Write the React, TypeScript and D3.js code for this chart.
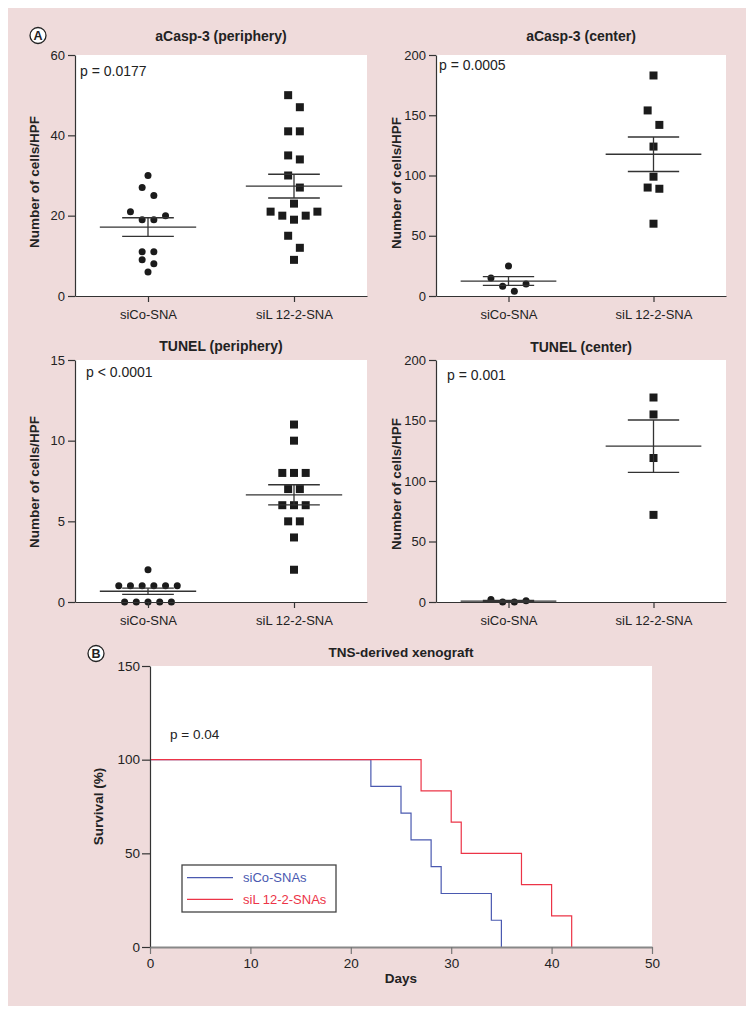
import React, { useEffect, useRef } from "react";
import * as d3 from "d3";

// ---------- data ----------
const groups = ["siCo-SNA", "siL 12-2-SNA"];

const casp3PeriphCo = [30, 27, 25, 21, 20, 19, 19, 11, 11, 9, 8, 6];
const casp3PeriphSiL = [50, 47, 41, 41, 35, 34, 30, 27, 23, 21, 21, 20, 20, 19, 15, 12, 9];
const casp3CenterCo = [25, 15, 10, 8, 4];
const casp3CenterSiL = [183, 154, 142, 124, 99, 90, 89, 60];
const tunelPeriphCo = [2, 1, 1, 1, 1, 1, 1, 0, 0, 0, 0, 0];
const tunelPeriphSiL = [11, 10, 8, 8, 8, 7, 7, 6, 6, 6, 5, 5, 4, 2];
const tunelCenterCo = [2, 0, 0, 1];
const tunelCenterSiL = [169, 155, 119, 72];

const panelTitles = ["aCasp-3 (periphery)", "aCasp-3 (center)", "TUNEL (periphery)", "TUNEL (center)"];
const pValues = ["p = 0.0177", "p = 0.0005", "p < 0.0001", "p = 0.001"];
const yMaxes = [60, 200, 15, 200];
const yTickSteps = [20, 50, 5, 50];
const yAxisTitle = "Number of cells/HPF";

const survivalTitle = "TNS-derived xenograft";
const survivalP = "p = 0.04";
const survivalGroups = ["siCo-SNAs", "siL 12-2-SNAs"];
const deathDaysCo = [22, 25, 26, 28, 29, 34, 35];
const deathDaysSiL = [27, 30, 31, 37, 40, 42];
const dayTicks = [0, 10, 20, 30, 40, 50];
const survivalTicks = [0, 50, 100, 150];

// ---------- style ----------
const FONT = "'Liberation Sans', Arial, Helvetica, sans-serif";
const PINK = "#efdbdb";
const INK = "#1b1b1b";
const AXIS = "#333";
const BLUE = "#4a59b0";
const RED = "#ec3447";

// ---------- helpers ----------
function swarmOffsets(values: number[], y: (v: number) => number, unit: number, rowGap = 7.5, pairGap = 15) {
  const idx = values.map((_, i) => i).sort((a, b) => values[b] - values[a]);
  const rows: number[][] = [];
  let prev = -Infinity;
  for (const i of idx) {
    const py = y(values[i]);
    if (rows.length && py - prev < rowGap) rows[rows.length - 1].push(i);
    else rows.push([i]);
    prev = py;
  }
  const off = new Array(values.length).fill(0);
  rows.forEach((r) => {
    const n = r.length;
    const slots = d3.range(n).map((k) => k - (n - 1) / 2);
    const order = slots.slice().sort((a, b) => Math.abs(b) - Math.abs(a) || a - b);
    r.forEach((pi, k) => (off[pi] = order[k] * unit));
  });
  const cand: { k: number; g: number }[] = [];
  for (let k = 0; k < rows.length - 1; k++) {
    if (rows[k].length === 1 && rows[k + 1].length === 1) {
      const g = y(values[rows[k + 1][0]]) - y(values[rows[k][0]]);
      if (g < pairGap) cand.push({ k, g });
    }
  }
  cand.sort((a, b) => a.g - b.g);
  const used = new Set<number>();
  for (const c of cand) {
    if (!used.has(c.k) && !used.has(c.k + 1)) {
      used.add(c.k);
      used.add(c.k + 1);
      off[rows[c.k][0]] = -unit / 2;
      off[rows[c.k + 1][0]] = unit / 2;
    }
  }
  return off;
}

function kaplanMeier(days: number[]) {
  const sorted = [...days].sort((a, b) => a - b);
  const pts: [number, number][] = [[0, 100]];
  let s = 100;
  let atRisk = sorted.length;
  for (const d of sorted) {
    s = s * (1 - 1 / atRisk);
    atRisk -= 1;
    pts.push([d, Math.abs(s) < 1e-9 ? 0 : s]);
  }
  return pts;
}

type AxisProps = {
  scale: any;
  orient: "left" | "bottom";
  transform: string;
  tickValues?: any[];
  tickSize: number;
  tickPadding: number;
  fontSize: number;
  domainStroke?: string;
  domainWidth?: number;
  tickStroke?: string;
  tickWidth?: number;
};

function Axis(p: AxisProps) {
  const ref = useRef<SVGGElement>(null);
  useEffect(() => {
    if (!ref.current) return;
    const axis = p.orient === "left" ? d3.axisLeft(p.scale) : d3.axisBottom(p.scale);
    axis.tickSizeOuter(0).tickSizeInner(p.tickSize).tickPadding(p.tickPadding);
    if (p.tickValues) axis.tickValues(p.tickValues);
    const g = d3.select(ref.current);
    g.call(axis as any);
    g.attr("font-family", FONT).attr("font-size", p.fontSize);
    g.selectAll("path.domain")
      .attr("stroke", p.domainStroke || AXIS)
      .attr("stroke-width", p.domainWidth || 1.2);
    g.selectAll(".tick line")
      .attr("stroke", p.tickStroke || AXIS)
      .attr("stroke-width", p.tickWidth || 1.2);
    g.selectAll(".tick text").attr("fill", "#222");
  });
  return <g ref={ref} transform={p.transform} />;
}

type PanelCfg = {
  left: number;
  right: number;
  top: number;
  bottom: number;
  idx: number;
  co: number[];
  sil: number[];
  titleY: number;
  labelX: number;
  labelY: number;
  pX: number;
  pY: number;
};

function DotPanel({ cfg }: { cfg: PanelCfg }) {
  const { left, right, top, bottom, idx, co, sil } = cfg;
  const w = right - left;
  const y = d3.scaleLinear().domain([0, yMaxes[idx]]).range([bottom, top]);
  const x = d3.scalePoint<string>().domain(groups).range([left, right]).padding(0.5);
  const step = x.step();
  const ticks = d3.range(0, yMaxes[idx] + 1e-9, yTickSteps[idx]);
  const unit = 11.7;
  const sets = [co, sil];
  return (
    <g>
      <rect x={left} y={top} width={w} height={bottom - top} fill="#fff" />
      <text x={(left + right) / 2} y={cfg.titleY} textAnchor="middle" fontFamily={FONT} fontWeight="bold" fontSize={14} fill="#222">
        {panelTitles[idx]}
      </text>
      <text x={cfg.pX} y={cfg.pY} fontFamily={FONT} fontSize={14} fill="#222">
        {pValues[idx]}
      </text>
      <text
        transform={`translate(${cfg.labelX},${cfg.labelY}) rotate(-90)`}
        textAnchor="middle"
        fontFamily={FONT}
        fontWeight="bold"
        fontSize={13.5}
        fill="#222"
      >
        {yAxisTitle}
      </text>
      {sets.map((vals, gi) => {
        const cx = x(groups[gi]) as number;
        const offs = swarmOffsets(vals, y, unit);
        return (
          <g key={gi}>
            {vals.map((v, i) =>
              gi === 0 ? (
                <circle key={i} cx={cx + offs[i]} cy={y(v)} r={3.5} fill={INK} />
              ) : (
                <rect key={i} x={cx + offs[i] - 4} y={y(v) - 4} width={8} height={8} fill={INK} />
              )
            )}
          </g>
        );
      })}
      {sets.map((vals, gi) => {
        const cx = x(groups[gi]) as number;
        const m = d3.mean(vals) as number;
        const sem = (d3.deviation(vals) as number) / Math.sqrt(vals.length);
        const hm = step * 0.33;
        const hs = step * 0.177;
        return (
          <g key={"s" + gi} stroke="#333" strokeWidth={1.3}>
            <line x1={cx - hm} x2={cx + hm} y1={y(m)} y2={y(m)} />
            <line x1={cx - hs} x2={cx + hs} y1={y(m + sem)} y2={y(m + sem)} />
            <line x1={cx - hs} x2={cx + hs} y1={y(m - sem)} y2={y(m - sem)} />
            <line x1={cx} x2={cx} y1={y(m + sem)} y2={y(m - sem)} />
          </g>
        );
      })}
      <Axis scale={y} orient="left" transform={`translate(${left},0)`} tickValues={ticks} tickSize={7} tickPadding={3} fontSize={13} />
      <Axis scale={x} orient="bottom" transform={`translate(0,${bottom})`} tickSize={6} tickPadding={8} fontSize={13} />
    </g>
  );
}

function CircleLabel({ cx, cy, label }: { cx: number; cy: number; label: string }) {
  return (
    <g>
      <circle cx={cx} cy={cy} r={8} fill="#fff" stroke="#222" strokeWidth={1.3} />
      <text x={cx} y={cy + 4.4} textAnchor="middle" fontFamily={FONT} fontWeight="bold" fontSize={12.5} fill="#222">
        {label}
      </text>
    </g>
  );
}

function SurvivalPanel() {
  const left = 150,
    right = 652,
    top = 666,
    bottom = 947;
  const x = d3.scaleLinear().domain([0, 50]).range([left, right]);
  const y = d3.scaleLinear().domain([0, 150]).range([bottom, top]);
  const line = d3
    .line<[number, number]>()
    .x((d) => x(d[0]))
    .y((d) => y(d[1]))
    .curve(d3.curveStepAfter);
  const co = kaplanMeier(deathDaysCo);
  const sil = kaplanMeier(deathDaysSiL);
  return (
    <g>
      <rect x={left} y={top} width={right - left} height={bottom - top} fill="#fff" />
      <text x={(left + right) / 2} y={657} textAnchor="middle" fontFamily={FONT} fontWeight="bold" fontSize={13.5} fill="#222">
        {survivalTitle}
      </text>
      <text x={170} y={739} fontFamily={FONT} fontSize={13.5} fill="#222">
        {survivalP}
      </text>
      <text transform={`translate(103,${(top + bottom) / 2}) rotate(-90)`} textAnchor="middle" fontFamily={FONT} fontWeight="bold" fontSize={13.5} fill="#222">
        Survival (%)
      </text>
      <text x={(left + right) / 2} y={983} textAnchor="middle" fontFamily={FONT} fontWeight="bold" fontSize={13.5} fill="#222">
        Days
      </text>
      <path d={line(co) || ""} fill="none" stroke={BLUE} strokeWidth={1.2} />
      <path d={line(sil) || ""} fill="none" stroke={RED} strokeWidth={1.2} />
      <Axis scale={y} orient="left" transform={`translate(${left},0)`} tickValues={survivalTicks} tickSize={8} tickPadding={2} fontSize={13.5} />
      <Axis
        scale={x}
        orient="bottom"
        transform={`translate(0,${bottom})`}
        tickValues={dayTicks}
        tickSize={7}
        tickPadding={4}
        fontSize={13.5}
        domainStroke="#888"
        domainWidth={2}
        tickStroke="#777"
      />
      <g>
        <rect x={182} y={865} width={154} height={47} fill="#fff" stroke="#444" strokeWidth={1.3} />
        {survivalGroups.map((g, i) => (
          <g key={g}>
            <line x1={187} x2={233} y1={877.7 + i * 21.6} y2={877.7 + i * 21.6} stroke={i === 0 ? BLUE : RED} strokeWidth={1.2} />
            <text x={243} y={882.3 + i * 21.6} fontFamily={FONT} fontSize={13} fill={i === 0 ? BLUE : RED}>
              {g}
            </text>
          </g>
        ))}
      </g>
    </g>
  );
}

export default function App() {
  const panels: PanelCfg[] = [
    { left: 75, right: 367, top: 55, bottom: 296, idx: 0, co: casp3PeriphCo, sil: casp3PeriphSiL, titleY: 41, labelX: 39, labelY: 182, pX: 80, pY: 76 },
    { left: 436, right: 726, top: 55, bottom: 296, idx: 1, co: casp3CenterCo, sil: casp3CenterSiL, titleY: 41, labelX: 401, labelY: 183, pX: 439, pY: 70 },
    { left: 75, right: 367, top: 360, bottom: 602, idx: 2, co: tunelPeriphCo, sil: tunelPeriphSiL, titleY: 351, labelX: 39, labelY: 482, pX: 86, pY: 377 },
    { left: 436, right: 726, top: 360, bottom: 602, idx: 3, co: tunelCenterCo, sil: tunelCenterSiL, titleY: 352, labelX: 401, labelY: 484, pX: 447, pY: 380 },
  ];
  return (
    <svg width={753} height={1016} style={{ position: "absolute", left: 0, top: 0, display: "block" }} xmlns="http://www.w3.org/2000/svg">
      <rect x={0} y={0} width={753} height={1016} fill="#fff" />
      <rect x={8} y={8} width={738} height={998} fill={PINK} />
      <CircleLabel cx={38} cy={35.5} label="A" />
      <CircleLabel cx={96} cy={653.5} label="B" />
      {panels.map((c) => (
        <DotPanel key={c.idx} cfg={c} />
      ))}
      <SurvivalPanel />
    </svg>
  );
}
